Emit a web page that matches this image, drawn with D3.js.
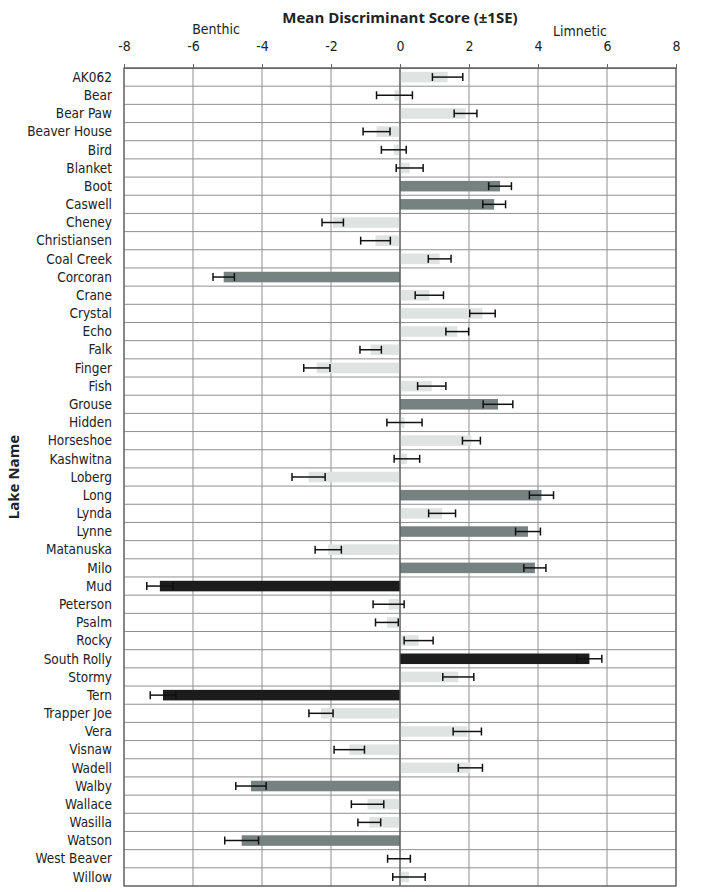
<!DOCTYPE html>
<html>
<head>
<meta charset="utf-8">
<script src="https://d3js.org/d3.v7.min.js"></script>
<style>
  body { margin: 0; background: #fff; }
  text { font-family: "Liberation Sans Narrow", "DejaVu Sans Condensed", sans-serif; fill: #222; }
</style>
</head>
<body>
<div id="chart"></div>
<script>
// lake names, top to bottom
var lakes = ["AK062","Bear","Bear Paw","Beaver House","Bird","Blanket","Boot","Caswell","Cheney","Christiansen",
  "Coal Creek","Corcoran","Crane","Crystal","Echo","Falk","Finger","Fish","Grouse","Hidden",
  "Horseshoe","Kashwitna","Loberg","Long","Lynda","Lynne","Matanuska","Milo","Mud","Peterson",
  "Psalm","Rocky","South Rolly","Stormy","Tern","Trapper Joe","Vera","Visnaw","Wadell","Walby",
  "Wallace","Wasilla","Watson","West Beaver","Willow"];
// mean discriminant score
var means = [1.38,-0.16,1.90,-0.68,-0.18,0.28,2.90,2.73,-1.95,-0.71,
  1.15,-5.11,0.85,2.39,1.66,-0.85,-2.41,0.92,2.84,0.13,
  2.07,0.20,-2.65,4.10,1.22,3.71,-2.08,3.91,-6.96,-0.33,
  -0.38,0.54,5.49,1.69,-6.87,-2.29,1.95,-1.47,2.04,-4.32,
  -0.94,-0.89,-4.59,-0.03,0.26];
// standard error
var ses = [0.44,0.52,0.33,0.39,0.36,0.39,0.33,0.33,0.31,0.43,
  0.33,0.31,0.41,0.37,0.33,0.31,0.38,0.41,0.43,0.51,
  0.26,0.37,0.48,0.35,0.39,0.36,0.38,0.32,0.38,0.45,
  0.33,0.42,0.36,0.45,0.37,0.35,0.41,0.44,0.35,0.44,
  0.47,0.33,0.49,0.33,0.47];
// shading group: 0 = light, 1 = medium, 2 = dark
var groups = [0,0,0,0,0,0,1,1,0,0,
  0,1,0,0,0,0,0,0,1,0,
  0,0,0,1,0,1,0,1,2,0,
  0,0,2,0,2,0,0,0,0,1,
  0,0,1,0,0];
var xTicks = [-8,-6,-4,-2,0,2,4,6,8];

var W = 705, H = 892;
var margin = {top: 68, right: 29, bottom: 6, left: 124};
var width = W - margin.left - margin.right,
    height = H - margin.top - margin.bottom;
var colors = ["#dfe3e2", "#758280", "#1c1c1c"];

var svg = d3.select("#chart").append("svg")
  .attr("width", W).attr("height", H);
var g = svg.append("g")
  .attr("transform", "translate(" + margin.left + "," + margin.top + ")");

var x = d3.scaleLinear().domain([-8, 8]).range([0, width]);
var y = d3.scaleBand().domain(lakes).range([0, height]).paddingInner(0.42).paddingOuter(0.21);

// gridlines
g.selectAll(".hgrid").data(d3.range(lakes.length + 1)).enter().append("line")
  .attr("x1", 0).attr("x2", width)
  .attr("y1", function(d) { return d * height / lakes.length; })
  .attr("y2", function(d) { return d * height / lakes.length; })
  .attr("stroke", "#8f8f8f").attr("stroke-width", 1);
g.selectAll(".vgrid").data(xTicks).enter().append("line")
  .attr("x1", function(d) { return x(d); }).attr("x2", function(d) { return x(d); })
  .attr("y1", 0).attr("y2", height)
  .attr("stroke", "#8f8f8f").attr("stroke-width", 1);

// bars
g.selectAll(".bar").data(lakes).enter().append("rect")
  .attr("x", function(d, i) { return x(Math.min(0, means[i])); })
  .attr("y", function(d) { return y(d); })
  .attr("width", function(d, i) { return Math.abs(x(means[i]) - x(0)); })
  .attr("height", y.bandwidth())
  .attr("fill", function(d, i) { return colors[groups[i]]; });

// zero line
g.append("line").attr("x1", x(0)).attr("x2", x(0)).attr("y1", 0).attr("y2", height)
  .attr("stroke", "#555").attr("stroke-width", 1.2);

// error bars
var eb = g.selectAll(".err").data(lakes).enter().append("g")
  .attr("transform", function(d) { return "translate(0," + (y(d) + y.bandwidth() / 2) + ")"; });
eb.append("line")
  .attr("x1", function(d, i) { return x(means[i] - ses[i]); })
  .attr("x2", function(d, i) { return x(means[i] + ses[i]); })
  .attr("stroke", "#111").attr("stroke-width", 1.5);
[-1, 1].forEach(function(s) {
  eb.append("line")
    .attr("x1", function(d, i) { return x(means[i] + s * ses[i]); })
    .attr("x2", function(d, i) { return x(means[i] + s * ses[i]); })
    .attr("y1", -4).attr("y2", 4)
    .attr("stroke", "#111").attr("stroke-width", 1.5);
});

// border
g.append("rect").attr("width", width).attr("height", height)
  .attr("fill", "none").attr("stroke", "#666").attr("stroke-width", 1.3);

// top axis (plain hyphen for negatives, like the original)
var xAxis = g.append("g").call(d3.axisTop(x).tickValues(xTicks).tickSize(4).tickPadding(13)
  .tickFormat(function(d) { return String(d); }));
xAxis.select(".domain").attr("stroke", "#666");
xAxis.selectAll(".tick line").attr("stroke", "#666");
xAxis.selectAll("text").style("font-size", "14px").attr("fill", "#222");

// category labels
g.selectAll(".lab").data(lakes).enter().append("text")
  .attr("x", -12)
  .attr("y", function(d) { return y(d) + y.bandwidth() / 2; })
  .attr("dy", "0.35em")
  .attr("text-anchor", "end")
  .style("font-size", "13.5px")
  .text(function(d) { return d; });

// titles
svg.append("text").attr("x", 400).attr("y", 23).attr("text-anchor", "middle")
  .style("font-family", "'Open Sans', sans-serif").style("font-weight", "bold").style("font-size", "15px")
  .text("Mean Discriminant Score (\u00b11SE)");
svg.append("text").attr("x", 216).attr("y", 34).attr("text-anchor", "middle")
  .style("font-size", "14px").text("Benthic");
svg.append("text").attr("x", 580).attr("y", 36).attr("text-anchor", "middle")
  .style("font-size", "14px").text("Limnetic");
svg.append("text").attr("transform", "translate(19,477) rotate(-90)").attr("text-anchor", "middle")
  .style("font-family", "'Open Sans', sans-serif").style("font-weight", "bold").style("font-size", "15px")
  .text("Lake Name");
</script>
</body>
</html>
